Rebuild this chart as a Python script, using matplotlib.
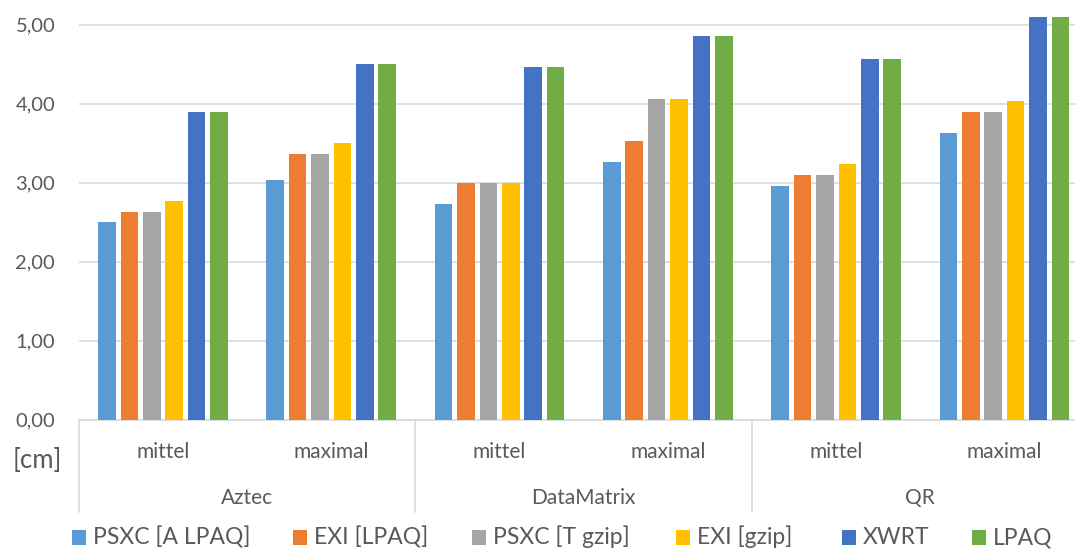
import matplotlib
matplotlib.use("Agg")
import matplotlib.pyplot as plt
from matplotlib.transforms import blended_transform_factory
from matplotlib.patches import Rectangle

plt.rcParams['font.family'] = ['Lato', 'DejaVu Sans']

# ---- data ----
groups = ["Aztec", "DataMatrix", "QR"]
subcats = ["mittel", "maximal"]
series = ["PSXC [A LPAQ]", "EXI [LPAQ]", "PSXC [T gzip]", "EXI [gzip]", "XWRT", "LPAQ"]
psxc_a_lpaq = [2.50, 3.03, 2.73, 3.26, 2.96, 3.63]
exi_lpaq = [2.63, 3.36, 2.99, 3.53, 3.09, 3.89]
psxc_t_gzip = [2.63, 3.36, 2.99, 4.06, 3.09, 3.89]
exi_gzip = [2.76, 3.50, 2.99, 4.06, 3.23, 4.03]
xwrt = [3.89, 4.50, 4.46, 4.86, 4.56, 5.10]
lpaq = [3.89, 4.50, 4.46, 4.86, 4.56, 5.10]
yticks = [0, 1, 2, 3, 4, 5]
ytick_labels = ["0,00", "1,00", "2,00", "3,00", "4,00", "5,00"]
unit_label = "[cm]"

values = [psxc_a_lpaq, exi_lpaq, psxc_t_gzip, exi_gzip, xwrt, lpaq]
colors = ["#5B9BD5", "#ED7D31", "#A5A5A5", "#FFC000", "#4472C4", "#70AD47"]
text_col = "#595959"
grid_col = "#D9D9D9"

W, H = 1075, 550
fig = plt.figure(figsize=(W / 100, H / 100), dpi=100)

def fx(px):
    return px / W

def fy(py):
    return 1 - py / H

ax_left, ax_right, ax_top, ax_bottom = 78.8, 1088.6, 0.0, 419.5
ax = fig.add_axes([fx(ax_left), fy(ax_bottom), fx(ax_right - ax_left), (ax_bottom - ax_top) / H])
ax.set_xlim(-0.5, 5.5)
ax.set_ylim(0, 419.5 / 79.0)

n = len(subcats) * len(groups)
slot = 0.1331
bw = 0.105
for j, (vals, c) in enumerate(zip(values, colors)):
    xs = [i + (j - (len(series) - 1) / 2) * slot for i in range(n)]
    ax.bar(xs, vals, width=bw, color=c, edgecolor='none', zorder=3)

ax.set_yticks(yticks)
ax.set_yticklabels(ytick_labels)
ax.yaxis.grid(True, color=grid_col, linewidth=1.2, zorder=0)
ax.set_axisbelow(True)
ax.tick_params(axis='y', length=0, pad=17, labelsize=14.5, labelcolor=text_col)
ax.set_xticks([])
for s in ['top', 'right', 'left']:
    ax.spines[s].set_visible(False)
ax.spines['bottom'].set_color(grid_col)
ax.spines['bottom'].set_linewidth(1.2)

# category axis labels
tr = blended_transform_factory(ax.transData, fig.transFigure)
for i in range(n):
    ax.text(i, fy(458), subcats[i % len(subcats)], transform=tr, ha='center', va='baseline',
            fontsize=15, color=text_col, clip_on=False)
for g, name in enumerate(groups):
    ax.text(g * len(subcats) + (len(subcats) - 1) / 2, fy(504), name, transform=tr, ha='center',
            va='baseline', fontsize=15, color=text_col, clip_on=False)
for g in range(len(groups) + 1):
    ax.plot([g * len(subcats) - 0.5] * 2, [fy(419.5), fy(511.7)], transform=tr, color=grid_col,
            linewidth=1.2, clip_on=False)

fig.text(fx(37.5), fy(461), unit_label, ha='center', va='center', fontsize=18.5, color=text_col)

# legend
marker_x = [72.3, 293.3, 472.3, 676, 841.7, 972.3]
for name, c, mx in zip(series, colors, marker_x):
    fig.patches.append(Rectangle((fx(mx), fy(544.5)), fx(14), 15 / H, transform=fig.transFigure,
                                 facecolor=c, edgecolor='none'))
    fig.text(fx(mx + 21), fy(544.5), name, ha='left', va='baseline', fontsize=16.5, color=text_col)

fig.savefig("out.png", dpi=100)
